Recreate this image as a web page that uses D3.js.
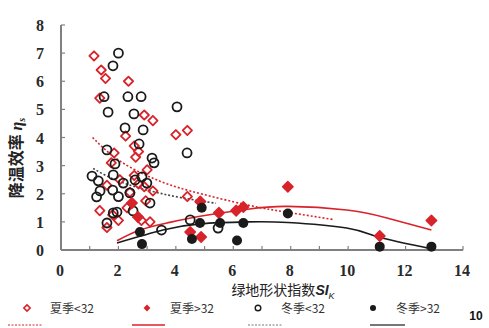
<!DOCTYPE html>
<html>
<head>
<meta charset="utf-8">
<script src="https://cdn.jsdelivr.net/npm/d3@7"></script>
<style>
	body { margin: 0; background: #fff; }
	svg { display: block; }
</style>
</head>
<body>
<svg id="chart" width="489" height="328"></svg>
<script>
// summer, SI < 32 (open red diamonds)
let summerLow = [
	[1.15, 6.9], [1.4, 6.4], [1.55, 6.1], [2.35, 6.0], [1.35, 5.4], [2.9, 4.8],
	[3.2, 4.6], [4.0, 4.1], [4.4, 4.25], [2.25, 4.05], [2.55, 3.7], [2.7, 3.5],
	[2.6, 3.3], [1.85, 3.45], [1.75, 3.1], [2.05, 2.5], [3.0, 2.85], [2.7, 2.35],
	[3.2, 2.1], [2.95, 1.75], [1.35, 1.4], [1.8, 1.25], [2.3, 1.5], [1.6, 0.8],
	[3.1, 1.0], [2.8, 1.05], [4.4, 1.9], [2.4, 2.05], [1.6, 2.3], [2.9, 2.25],
	[2.0, 1.05], [2.55, 2.65]
];
// summer, SI > 32 (filled red)
let summerHigh = [
	[2.68, 1.17], [2.47, 1.67], [4.5, 0.64], [4.88, 0.46], [4.85, 1.72], [5.5, 1.32],
	[6.1, 1.4], [6.35, 1.53], [7.9, 2.25], [11.1, 0.5], [12.9, 1.05]
];
// winter, SI < 32 (open black circles)
let winterLow = [
	[2.0, 7.0], [1.81, 6.55], [1.5, 5.45], [2.33, 5.45], [2.79, 5.45], [1.64, 4.9],
	[2.54, 4.84], [4.04, 5.09], [2.23, 4.34], [2.86, 4.27], [2.72, 3.77], [4.39, 3.45],
	[1.6, 3.56], [3.17, 3.27], [3.24, 3.1], [1.88, 3.06], [1.08, 2.63], [1.3, 2.46],
	[1.36, 2.1], [1.24, 1.89], [1.82, 2.67], [1.8, 2.13], [2.17, 2.38], [2.4, 2.03],
	[2.58, 2.49], [2.82, 2.6], [2.99, 2.38], [3.1, 1.67], [2.51, 1.39], [1.82, 1.32],
	[1.6, 0.96], [1.95, 1.35], [3.5, 0.71], [4.5, 1.07], [5.47, 0.78], [2.0, 1.9]
];
// winter, SI > 32 (filled black circles)
let winterHigh = [
	[2.75, 0.64], [2.82, 0.21], [4.56, 0.39], [4.84, 0.96], [4.9, 1.5], [5.54, 0.96],
	[6.13, 0.34], [6.35, 0.96], [7.9, 1.3], [11.1, 0.12], [12.9, 0.12]
];

// trend lines
let summerLowTrend = [[1.1, 4.0], [2, 3.2], [3.2, 2.55], [4.5, 2.1], [6.5, 1.6], [7.9, 1.34], [9.5, 1.08]];
let summerHighTrend = [[1.95, 0.33], [2.75, 0.71], [3.69, 0.96], [4.84, 1.2], [6.5, 1.45], [7.9, 1.55], [9.95, 1.42], [11.35, 1.14], [12.9, 0.71]];
let winterLowTrend = [[1.12, 2.9], [2, 2.45], [3.2, 2.08], [4.2, 1.86], [5.4, 1.66]];
let winterHighTrend = [[1.95, 0.25], [3.55, 0.71], [4.84, 0.93], [6.5, 1.0], [7.9, 0.98], [9.95, 0.78], [11.1, 0.45], [12.9, 0.04]];

let xTicks = [0, 2, 4, 6, 8, 10, 12, 14];
let yTicks = [0, 1, 2, 3, 4, 5, 6, 7, 8];
let legendNames = ["夏季<32", "夏季>32", "冬季<32", "冬季>32"];

const red = "#d8232a";
const dark = "#1a1a1a";
const serif = "'Liberation Serif', 'DejaVu Serif', serif";
const cjk = "'Noto Sans CJK SC', sans-serif";

let svg = d3.select("#chart");
let x = d3.scaleLinear().domain([0, 14]).range([61, 463]);
let y = d3.scaleLinear().domain([0, 8]).range([250, 25]);

// axes
let axisColor = "#808080";
svg.append("line").attr("x1", x(0)).attr("x2", x(14)).attr("y1", y(0)).attr("y2", y(0))
	.attr("stroke", axisColor).attr("stroke-width", 2);
svg.append("line").attr("x1", x(0)).attr("x2", x(0)).attr("y1", y(0)).attr("y2", y(8))
	.attr("stroke", axisColor).attr("stroke-width", 2);

d3.range(1, 15).forEach(t => {
	svg.append("line").attr("x1", x(t)).attr("x2", x(t)).attr("y1", y(0)).attr("y2", y(0) - 4)
		.attr("stroke", axisColor).attr("stroke-width", 1.2);
});
yTicks.forEach(t => {
	svg.append("line").attr("x1", x(0)).attr("x2", x(0) + 4).attr("y1", y(t)).attr("y2", y(t))
		.attr("stroke", axisColor).attr("stroke-width", 1.2);
});

svg.selectAll(".xl").data(xTicks).join("text")
	.attr("font-family", serif).attr("font-weight", "bold").attr("font-size", 16).attr("fill", "#2a2a2a")
	.attr("x", d => x(d) - 1).attr("y", 276)
	.attr("text-anchor", "middle")
	.text(d => d);
svg.selectAll(".yl").data(yTicks).join("text")
	.attr("font-family", serif).attr("font-weight", "bold").attr("font-size", 16).attr("fill", "#2a2a2a")
	.attr("x", 44).attr("y", d => y(d) + 6)
	.attr("text-anchor", "end")
	.text(d => d);

// axis titles
let xt = svg.append("text").attr("font-family", cjk).attr("fill", "#222")
	.attr("x", 283).attr("y", 295)
	.attr("text-anchor", "middle").attr("font-size", 14);
xt.append("tspan").text("绿地形状指数");
xt.append("tspan").attr("font-style", "italic").attr("font-weight", "bold")
	.attr("font-family", "'Liberation Sans', sans-serif").text("SI");
xt.append("tspan").attr("font-size", 9).attr("dy", 4).attr("font-style", "italic")
	.attr("font-family", "'Liberation Sans', sans-serif").text("K");

let yt = svg.append("text").attr("font-family", cjk).attr("font-weight", "bold").attr("fill", "#222")
	.attr("transform", "translate(22,158) rotate(-90)")
	.attr("text-anchor", "middle").attr("font-size", 16);
yt.append("tspan").text("降温效率 ");
yt.append("tspan").attr("font-family", serif).attr("font-style", "italic").text("η");
yt.append("tspan").attr("font-size", 10).attr("dy", 3).attr("font-family", serif)
	.attr("font-style", "italic").text("s");

// trend lines
let line = d3.line().x(d => x(d[0])).y(d => y(d[1])).curve(d3.curveNatural);
svg.append("path").attr("d", line(summerLowTrend)).attr("fill", "none")
	.attr("stroke", red).attr("stroke-width", 1.6).attr("stroke-dasharray", "2,2");
svg.append("path").attr("d", line(winterLowTrend)).attr("fill", "none")
	.attr("stroke", "#444").attr("stroke-width", 1.6).attr("stroke-dasharray", "2,2");
svg.append("path").attr("d", line(summerHighTrend)).attr("fill", "none")
	.attr("stroke", red).attr("stroke-width", 1.6);
svg.append("path").attr("d", line(winterHighTrend)).attr("fill", "none")
	.attr("stroke", dark).attr("stroke-width", 1.6);

// markers
let diamond = d3.symbol().type(d3.symbolDiamond2).size(55);
let star = d3.symbol().type(d3.symbolDiamond2).size(70);

svg.append("g").selectAll("path").data(summerLow).join("path")
	.attr("d", diamond)
	.attr("transform", d => `translate(${x(d[0])},${y(d[1])})`)
	.attr("fill", "none").attr("stroke", red).attr("stroke-width", 1.8).attr("stroke-linejoin", "round");

svg.append("g").selectAll("circle").data(winterLow).join("circle")
	.attr("cx", d => x(d[0])).attr("cy", d => y(d[1])).attr("r", 4.5)
	.attr("fill", "none").attr("stroke", dark).attr("stroke-width", 1.8);

svg.append("g").selectAll("path").data(summerHigh).join("path")
	.attr("d", star)
	.attr("transform", d => `translate(${x(d[0])},${y(d[1])})`)
	.attr("fill", red).attr("stroke", red).attr("stroke-width", 1.5).attr("stroke-linejoin", "round");

svg.append("g").selectAll("circle").data(winterHigh).join("circle")
	.attr("cx", d => x(d[0])).attr("cy", d => y(d[1])).attr("r", 5)
	.attr("fill", dark);

// legend
let legendX = [27, 147, 258, 373];
let lg = svg.append("g").attr("class", "legend");
lg.append("path").attr("d", d3.symbol().type(d3.symbolDiamond2).size(25)())
	.attr("transform", `translate(${legendX[0]},308)`)
	.attr("fill", "none").attr("stroke", red).attr("stroke-width", 1.6);
lg.append("path").attr("d", d3.symbol().type(d3.symbolDiamond2).size(30)())
	.attr("transform", `translate(${legendX[1]},308)`).attr("fill", red);
lg.append("circle").attr("cx", legendX[2]).attr("cy", 308).attr("r", 2.8)
	.attr("fill", "none").attr("stroke", dark).attr("stroke-width", 1.4);
lg.append("circle").attr("cx", legendX[3]).attr("cy", 308).attr("r", 3).attr("fill", dark);

legendNames.forEach((name, i) => {
	lg.append("text").attr("font-family", cjk).attr("x", legendX[i] + 23).attr("y", 313)
		.attr("font-size", 12).attr("fill", "#333").text(name);
});

let lineX = [[8, 42], [132, 165], [248, 283], [370, 405]];
let lineStyle = [
	{ c: red, dash: "2,1.5", w: 1 },
	{ c: red, dash: null, w: 1.5 },
	{ c: "#777", dash: "2,1.5", w: 1 },
	{ c: "#777", dash: null, w: 1.8 }
];
lineX.forEach((seg, i) => {
	lg.append("line").attr("x1", seg[0]).attr("x2", seg[1]).attr("y1", 325).attr("y2", 325)
		.attr("stroke", lineStyle[i].c).attr("stroke-width", lineStyle[i].w)
		.attr("stroke-dasharray", lineStyle[i].dash);
});

svg.append("text").attr("x", 476).attr("y", 320).attr("text-anchor", "middle")
	.attr("font-family", "'Liberation Sans', sans-serif").attr("font-weight", "bold")
	.attr("font-size", 12).attr("fill", "#111").text("10");
</script>
</body>
</html>
